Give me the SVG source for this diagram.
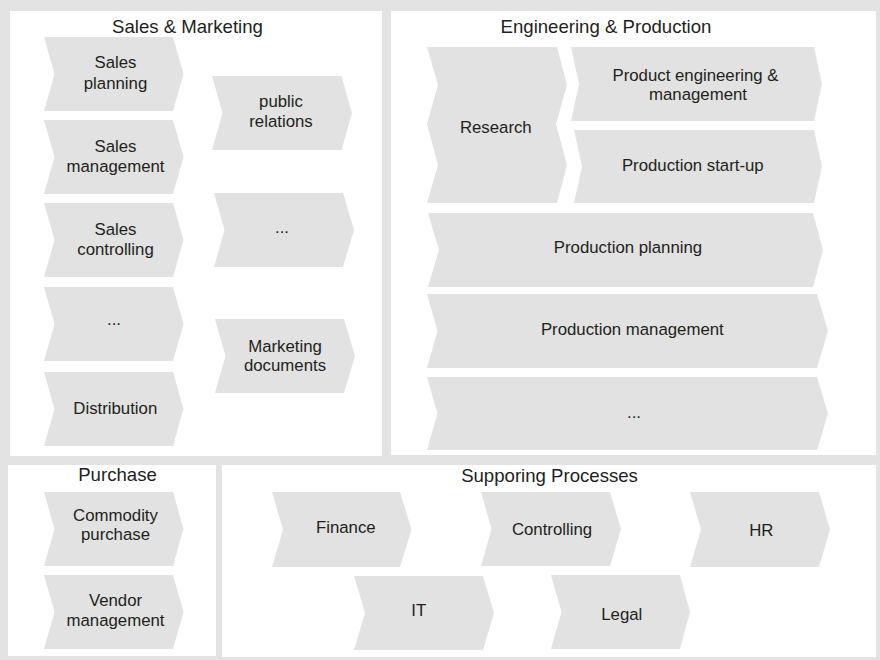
<svg xmlns="http://www.w3.org/2000/svg" width="880" height="660" viewBox="0 0 880 660">
<style>
.bg{fill:#e2e3e2}
.panel{fill:#ffffff}
.chev{fill:#e1e2e1}
text{font-family:"Liberation Sans",Arial,Helvetica,sans-serif;fill:#231f20;text-anchor:middle}
.t{font-size:18.6px}
.n{font-size:16.8px}
</style>
<rect class="bg" x="0" y="0" width="880" height="660"/>
<g id="panel-sales">
<rect class="panel" x="10" y="11" width="372" height="445"/>
<text class="t" x="187.5" y="32.5">Sales &amp; Marketing</text>
</g>
<g id="panel-engineering">
<rect class="panel" x="391" y="11" width="485" height="444"/>
<text class="t" x="606" y="33">Engineering &amp; Production</text>
</g>
<g id="panel-purchase">
<rect class="panel" x="8" y="465" width="208" height="191"/>
<text class="t" x="117.5" y="480.5">Purchase</text>
</g>
<g id="panel-supporting">
<rect class="panel" x="222" y="465" width="654" height="192"/>
<text class="t" x="549.5" y="481.5">Supporing Processes</text>
</g>
<g id="connectors"/>
<g id="sales-planning">
<polygon class="chev" points="44,37 173,37 183.5,74 173,111 44,111 54.5,74"/>
<text class="n" x="115.5" y="68.3">Sales</text>
<text class="n" x="115.5" y="89">planning</text>
</g>
<g id="sales-management">
<polygon class="chev" points="44,120 173,120 183.5,157 173,194 44,194 54.5,157"/>
<text class="n" x="115.5" y="151.5">Sales</text>
<text class="n" x="115.5" y="171.8">management</text>
</g>
<g id="sales-controlling">
<polygon class="chev" points="44,203 173,203 183.5,240 173,277 44,277 54.5,240"/>
<text class="n" x="115.5" y="235">Sales</text>
<text class="n" x="115.5" y="255">controlling</text>
</g>
<g id="sales-more">
<polygon class="chev" points="44,287 173,287 183.5,324 173,361 44,361 54.5,324"/>
<text class="n" x="114" y="324.5">...</text>
</g>
<g id="distribution">
<polygon class="chev" points="44,372 173,372 183.5,409 173,446 44,446 54.5,409"/>
<text class="n" x="115.3" y="413.5">Distribution</text>
</g>
<g id="public-relations">
<polygon class="chev" points="212,76 341.5,76 352,113 341.5,150 212,150 222.5,113"/>
<text class="n" x="281" y="107.3">public</text>
<text class="n" x="281" y="126.8">relations</text>
</g>
<g id="marketing-more">
<polygon class="chev" points="214,193 343,193 354,230 343,267 214,267 224.5,230"/>
<text class="n" x="282" y="232.5">...</text>
</g>
<g id="marketing-documents">
<polygon class="chev" points="215,319 344,319 355,356 344,393 215,393 225.5,356"/>
<text class="n" x="285" y="351.7">Marketing</text>
<text class="n" x="285" y="371.2">documents</text>
</g>
<g id="research">
<polygon class="chev" points="427,47 557,47 567,85 556,124 567,165 557,203 427,203 438,165 427,124 438,85"/>
<text class="n" x="495.8" y="133">Research</text>
</g>
<g id="product-engineering">
<polygon class="chev" points="571,47 814,47 822,84 814,121 571,121 579,84"/>
<text class="n" x="695.5" y="81">Product engineering &amp;</text>
<text class="n" x="698" y="100.3">management</text>
</g>
<g id="production-startup">
<polygon class="chev" points="574,130 814,130 822,166.5 814,203 574,203 582,166.5"/>
<text class="n" x="692.8" y="170.7">Production start-up</text>
</g>
<g id="production-planning">
<polygon class="chev" points="428,213 813,213 823,250 813,287 428,287 439,250"/>
<text class="n" x="628" y="253.3">Production planning</text>
</g>
<g id="production-management">
<polygon class="chev" points="427,294 817,294 828,331 817,368 427,368 437.5,331"/>
<text class="n" x="632.3" y="335">Production management</text>
</g>
<g id="production-more">
<polygon class="chev" points="427,377 817,377 828,413.5 817,450 427,450 437.5,413.5"/>
<text class="n" x="634" y="417.5">...</text>
</g>
<g id="commodity-purchase">
<polygon class="chev" points="44,492 173,492 183.5,529 173,566 44,566 54.5,529"/>
<text class="n" x="115.5" y="520.7">Commodity</text>
<text class="n" x="115.5" y="540.2">purchase</text>
</g>
<g id="vendor-management">
<polygon class="chev" points="44,575 173,575 183.5,612 173,649 44,649 54.5,612"/>
<text class="n" x="115.5" y="606">Vendor</text>
<text class="n" x="115.5" y="626">management</text>
</g>
<g id="finance">
<polygon class="chev" points="272,492 400,492 411.5,529.5 400,567 272,567 283,529.5"/>
<text class="n" x="345.8" y="532.7">Finance</text>
</g>
<g id="controlling">
<polygon class="chev" points="481,492 610,492 621,529 610,566 481,566 491.5,529"/>
<text class="n" x="552" y="535">Controlling</text>
</g>
<g id="hr">
<polygon class="chev" points="690,492 819,492 830,529.5 819,567 690,567 701,529.5"/>
<text class="n" x="761.3" y="536">HR</text>
</g>
<g id="it">
<polygon class="chev" points="354,576 483,576 494,613 483,650 354,650 365,613"/>
<text class="n" x="418.8" y="616">IT</text>
</g>
<g id="legal">
<polygon class="chev" points="551,575 680,575 690,612 680,649 551,649 561.5,612"/>
<text class="n" x="621.8" y="620">Legal</text>
</g>
</svg>
